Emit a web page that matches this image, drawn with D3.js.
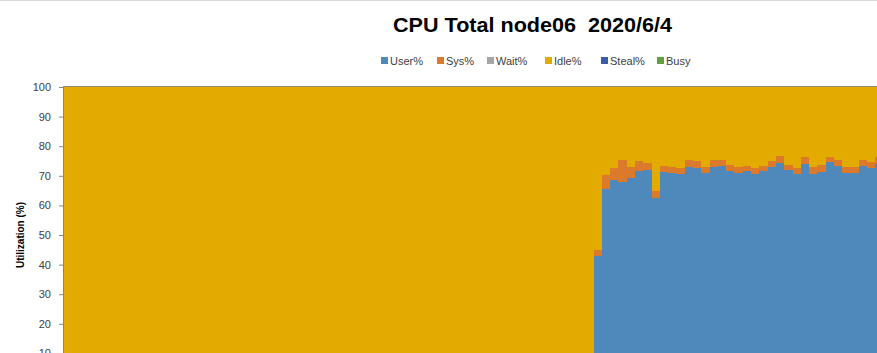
<!DOCTYPE html>
<html>
<head>
<meta charset="utf-8">
<script src="https://cdn.jsdelivr.net/npm/d3@7"></script>
<style>
  body { margin: 0; overflow: hidden; background: #fff; }
  svg { display: block; font-family: "Liberation Sans", Arial, sans-serif; }
</style>
</head>
<body>
<div id="chart"></div>
<script>
const title = "CPU Total node06  2020/6/4";
const seriesNames = ["User%", "Sys%", "Wait%", "Idle%", "Steal%", "Busy"];
const seriesColors = ["#4f88bb", "#dc7a2b", "#a5a5a5", "#e3aa00", "#3a5ca8", "#62a040"];
const yTicks = [0, 10, 20, 30, 40, 50, 60, 70, 80, 90, 100];

const userPct = [
  0.4,0.3,0.3,0.5,0.3,0.2,0.3,0.4,0.3,0.3,0.2,0.3,0.4,0.3,0.3,0.3,
  0.2,0.3,0.3,0.4,0.3,0.3,0.3,0.2,0.3,0.5,0.3,0.3,0.2,0.3,0.3,0.3,
  0.4,0.3,0.3,0.2,0.3,0.3,0.3,0.4,0.3,0.3,0.2,0.3,0.3,0.4,0.3,0.3,
  0.3,0.5,0.3,0.3,0.2,0.3,0.3,0.4,0.3,0.3,0.3,0.2,0.3,0.3,0.4,0.3,
  43.0,65.5,68.5,68.0,69.2,71.7,72.0,62.4,71.4,71.0,70.6,73.1,72.8,71.0,73.1,73.3,
  71.7,70.9,71.5,70.6,71.6,73.1,74.4,72.0,70.6,74.1,70.6,71.4,74.8,73.3,70.9,70.9,
  73.3,72.5,74.0
];
const sysPct = [
  0.2,0.2,0.2,0.3,0.2,0.2,0.2,0.2,0.2,0.2,0.2,0.2,0.2,0.2,0.2,0.2,
  0.2,0.2,0.2,0.2,0.2,0.2,0.2,0.2,0.2,0.3,0.2,0.2,0.2,0.2,0.2,0.2,
  0.2,0.2,0.2,0.2,0.2,0.2,0.2,0.2,0.2,0.2,0.2,0.2,0.2,0.2,0.2,0.2,
  0.2,0.3,0.2,0.2,0.2,0.2,0.2,0.2,0.2,0.2,0.2,0.2,0.2,0.2,0.2,0.2,
  2.0,4.8,4.0,7.3,3.9,3.3,2.2,2.6,1.9,1.9,1.9,2.2,2.3,2.1,2.2,2.1,
  2.0,2.0,1.8,1.9,1.7,1.8,2.3,1.6,1.9,2.3,2.3,2.2,1.6,2.2,2.0,2.0,
  2.0,2.3,2.5
];
const waitPct = [
  0,0,0,0,0,0,0,0,0,0,0,0,0,0,0,0,
  0,0,0,0,0,0,0,0,0,0,0,0,0,0,0,0,
  0,0,0,0,0,0,0,0,0,0,0,0,0,0,0,0,
  0,0,0,0,0,0,0,0,0,0,0,0,0,0,0,0,
  0,0,0,0,0,0,0,0,0,0,0,0,0,0,0,0,
  0,0,0,0,0,0,0,0,0,0,0,0,0,0,0,0,
  0,0,0
];
const idlePct = [
  99.4,99.5,99.5,99.2,99.5,99.6,99.5,99.4,99.5,99.5,99.6,99.5,99.4,99.5,99.5,99.5,
  99.6,99.5,99.5,99.4,99.5,99.5,99.5,99.6,99.5,99.2,99.5,99.5,99.6,99.5,99.5,99.5,
  99.4,99.5,99.5,99.6,99.5,99.5,99.5,99.4,99.5,99.5,99.6,99.5,99.5,99.4,99.5,99.5,
  99.5,99.2,99.5,99.5,99.6,99.5,99.5,99.4,99.5,99.5,99.5,99.6,99.5,99.5,99.4,99.5,
  55.0,29.7,27.5,24.7,26.9,25.0,25.8,35.0,26.7,27.1,27.5,24.7,24.9,26.9,24.7,24.6,
  26.3,27.1,26.7,27.5,26.7,25.1,23.3,26.4,27.5,23.6,27.1,26.4,23.6,24.5,27.1,27.1,
  24.7,25.2,23.5
];
const stealPct = [
  0,0,0,0,0,0,0,0,0,0,0,0,0,0,0,0,
  0,0,0,0,0,0,0,0,0,0,0,0,0,0,0,0,
  0,0,0,0,0,0,0,0,0,0,0,0,0,0,0,0,
  0,0,0,0,0,0,0,0,0,0,0,0,0,0,0,0,
  0,0,0,0,0,0,0,0,0,0,0,0,0,0,0,0,
  0,0,0,0,0,0,0,0,0,0,0,0,0,0,0,0,
  0,0,0
];
const categories = d3.range(userPct.length);

const width = 877, height = 420;
const plotLeft = 63, plotTop = 87, plotBottom = 383, barW = 8.29;

const svg = d3.select("#chart").append("svg")
  .attr("width", width)
  .attr("height", height);

svg.append("line")
  .attr("x1", 0).attr("x2", width)
  .attr("y1", 0.5).attr("y2", 0.5)
  .attr("stroke", "#d9d9d9");

svg.append("text")
  .attr("x", 393).attr("y", 32)
  .attr("font-size", 20)
  .attr("font-weight", "bold")
  .attr("textLength", 279)
  .attr("lengthAdjust", "spacingAndGlyphs")
  .style("white-space", "pre")
  .text(title);

// legend
const legendX = [381, 437, 487, 545, 601, 657];
const legend = svg.append("g");
seriesNames.forEach((name, i) => {
  legend.append("rect")
    .attr("x", legendX[i]).attr("y", 57)
    .attr("width", 7).attr("height", 7)
    .attr("fill", seriesColors[i]);
  legend.append("text")
    .attr("x", legendX[i] + 9).attr("y", 65)
    .attr("font-size", 11)
    .attr("fill", "#404040")
    .text(name);
});

const rows = categories.map(i => ({
  user: userPct[i], sys: sysPct[i], wait: waitPct[i], idle: idlePct[i], steal: stealPct[i]
}));
const keys = ["user", "sys", "wait", "idle", "steal"];
const stacked = d3.stack().keys(keys)(rows);

const x = d3.scaleBand()
  .domain(categories)
  .range([plotLeft, plotLeft + categories.length * barW])
  .padding(0);

const y = d3.scaleLinear()
  .domain([0, 100])
  .range([plotBottom, plotTop]);

// snap bar edges to whole pixels so adjacent columns do not leave seams
const x0 = i => Math.round(x(categories[i]));
const x1 = i => Math.round(x(categories[i]) + x.bandwidth());

svg.append("g")
  .attr("shape-rendering", "crispEdges")
  .selectAll("g")
  .data(stacked)
  .join("g")
  .attr("fill", (d, i) => seriesColors[i])
  .selectAll("rect")
  .data(d => d)
  .join("rect")
  .attr("x", (d, i) => x0(i))
  .attr("width", (d, i) => x1(i) - x0(i))
  .attr("y", d => Math.round(y(d[1])))
  .attr("height", d => Math.max(0, Math.round(y(d[0])) - Math.round(y(d[1]))));

// top gridline
svg.append("line")
  .attr("x1", plotLeft).attr("x2", width)
  .attr("y1", y(100) - 0.5).attr("y2", y(100) - 0.5)
  .attr("stroke", "#8f8a78");

const yAxis = svg.append("g")
  .attr("transform", `translate(${plotLeft},0)`)
  .call(d3.axisLeft(y).tickValues(yTicks).tickSize(4).tickPadding(8));
yAxis.select(".domain").attr("stroke", "#868686");
yAxis.selectAll(".tick line").attr("stroke", "#868686");
yAxis.selectAll(".tick text")
  .attr("font-size", 11)
  .attr("font-family", "Liberation Sans, Arial, sans-serif")
  .attr("fill", "#404040");

svg.append("text")
  .attr("transform", `translate(24,${(plotTop + plotBottom) / 2}) rotate(-90)`)
  .attr("text-anchor", "middle")
  .attr("font-size", 10)
  .attr("font-weight", "bold")
  .text("Utilization (%)");
</script>
</body>
</html>
